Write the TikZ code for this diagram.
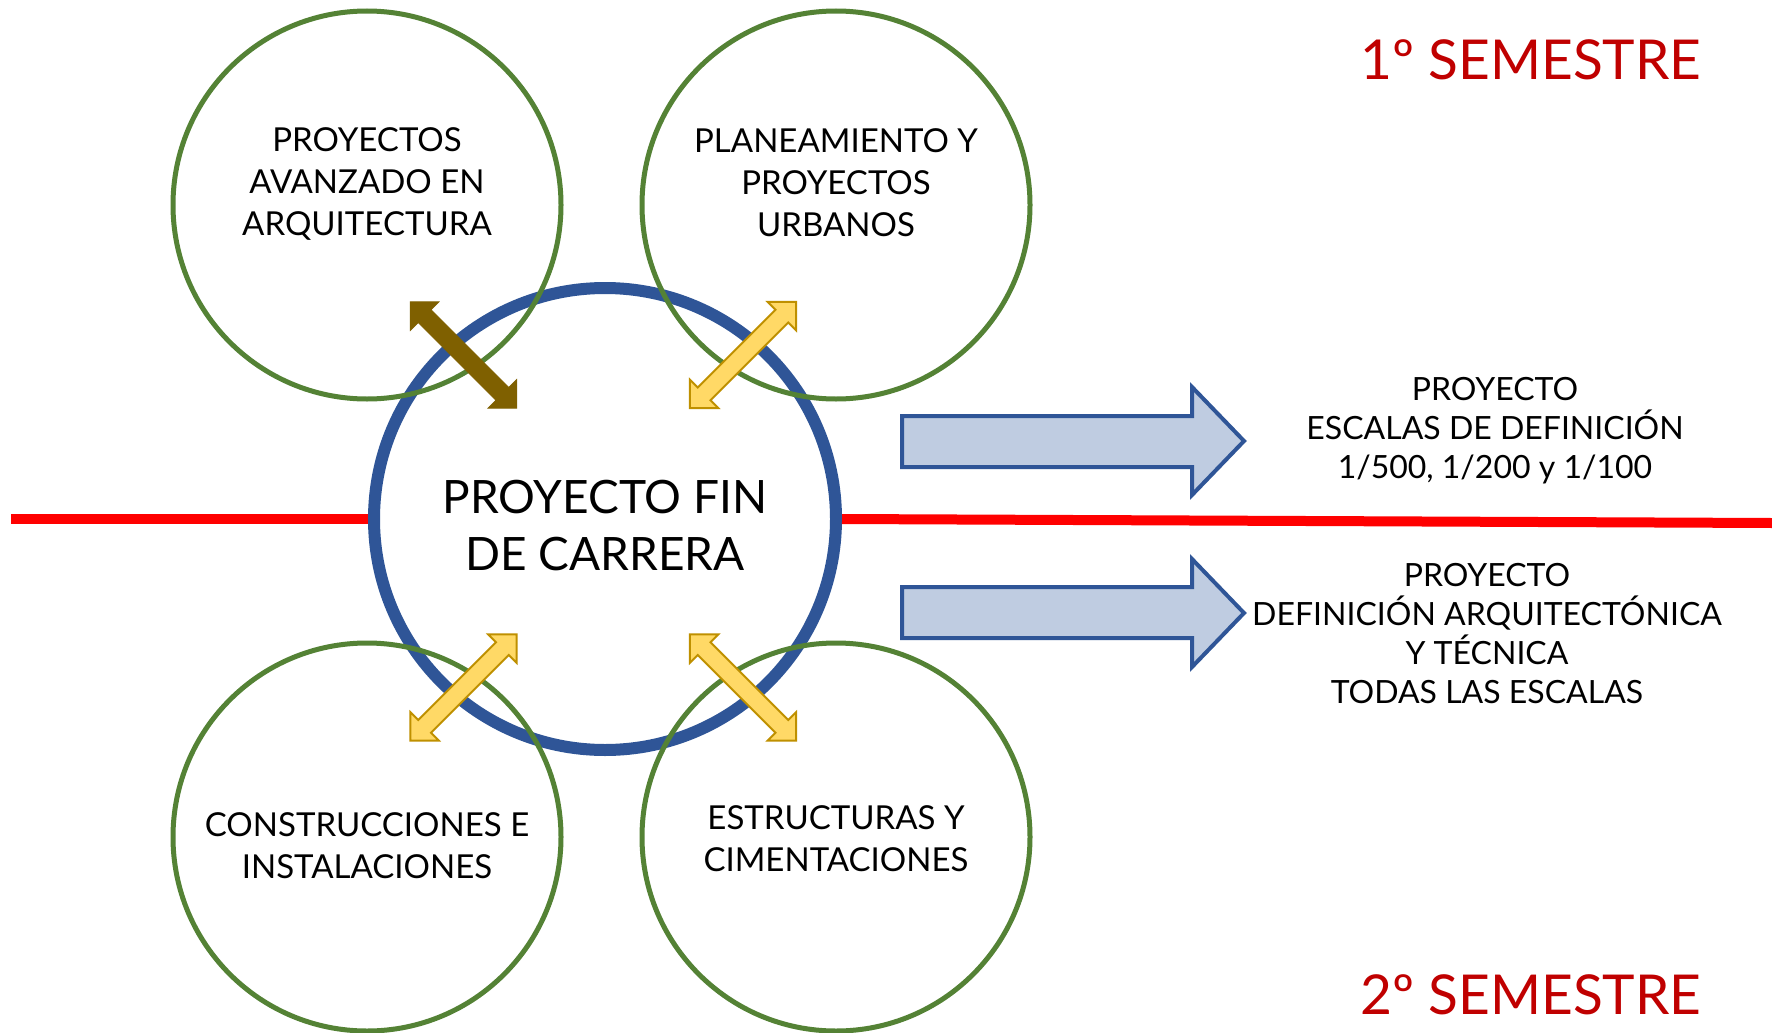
\documentclass[tikz,border=0pt]{standalone}
\usepackage{fontspec}
\setmainfont{Lato}
\definecolor{cgreen}{HTML}{548235}
\definecolor{cblue}{HTML}{2F5597}
\definecolor{cred}{HTML}{FF0000}
\definecolor{csem}{HTML}{C00000}
\definecolor{cbrown}{HTML}{7F6000}
\definecolor{cyel}{HTML}{FFD966}
\definecolor{cyelb}{HTML}{BF9000}
\definecolor{cblk}{HTML}{BFCCE1}
\tikzset{
  subj/.style={circle, draw=cgreen, line width=5pt, minimum size=388pt, inner sep=0pt},
  subjtxt/.style={align=center, font=\fontsize{33}{42}\selectfont, inner sep=0pt},
  sidetxt/.style={align=center, font=\fontsize{32}{39}\selectfont, inner sep=0pt},
  semtxt/.style={text=csem, font=\fontsize{55}{66}\selectfont, inner sep=0pt},
  blockarrow/.style={fill=cblk, draw=cblue, line width=4pt, line join=miter},
  yelarrow/.style={fill=cyel, draw=cyelb, line width=2pt, line join=miter},
  brnarrow/.style={fill=cbrown, draw=cbrown, line width=1pt, line join=miter},
  redline/.style={draw=cred, line width=10pt}
}
\newcommand{\dblarrow}[4]{%
  \begin{scope}[shift={(#1,#2)}, rotate=#3]
    \path[#4] (75,0) -- (55,20) -- (55,9) -- (-55,9) -- (-55,20) -- (-75,0)
      -- (-55,-20) -- (-55,-9) -- (55,-9) -- (55,-20) -- cycle;
  \end{scope}}
\begin{document}
\begin{tikzpicture}[x=1pt,y=-1pt]
\useasboundingbox[fill=white] (0,0) rectangle (1772,1033);
% central circle
\node[circle, draw=cblue, line width=12pt, minimum size=462pt, inner sep=0pt] (pfc) at (605,519) {};
% red semester line
\coordinate (rl) at (11,519);
\coordinate (rr) at (1772,523);
\draw[redline] (rl) -- (pfc.west);
\draw[redline] (pfc.east) -- (rr);
% subject circles
\node[subj] (c1) at (367,205) {};
\node[subj] (c2) at (836,205) {};
\node[subj] (c3) at (367,837) {};
\node[subj] (c4) at (836,837) {};
% texts
\node[subjtxt] (t1) at (367,184) {PROYECTOS\\AVANZADO EN\\ARQUITECTURA};
\node[subjtxt] (t2) at (836,183) {PLANEAMIENTO Y\\PROYECTOS\\URBANOS};
\node[subjtxt] (t3) at (367,846) {CONSTRUCCIONES E\\INSTALACIONES};
\node[subjtxt] (t4) at (836,839) {ESTRUCTURAS Y\\CIMENTACIONES};
\node[align=center, font=\fontsize{46}{57}\selectfont, inner sep=0pt] (tc) at (605,526) {PROYECTO FIN\\DE CARRERA};
% double arrows
\dblarrow{463.5}{355}{-45}{brnarrow}
\dblarrow{743}{355}{45}{yelarrow}
\dblarrow{463.5}{687.5}{45}{yelarrow}
\dblarrow{743}{687.5}{-45}{yelarrow}
% block arrows
\path[blockarrow] (902,416) -- (1192,416) -- (1192,387) -- (1244,441) -- (1192,495) -- (1192,467) -- (902,467) -- cycle;
\path[blockarrow] (902,587) -- (1192,587) -- (1192,559) -- (1244,613) -- (1192,667) -- (1192,638) -- (902,638) -- cycle;
% side texts
\node[sidetxt] (s1) at (1495,431) {PROYECTO\\ESCALAS DE DEFINICIÓN\\1/500, 1/200 y 1/100};
\node[sidetxt] (s2) at (1487,634) {PROYECTO\\DEFINICIÓN ARQUITECTÓNICA\\Y TÉCNICA\\TODAS LAS ESCALAS};
% semesters
\node[semtxt] (sem1) at (1531,60) {1º SEMESTRE};
\node[semtxt] (sem2) at (1531,995) {2º SEMESTRE};
\end{tikzpicture}
\end{document}
